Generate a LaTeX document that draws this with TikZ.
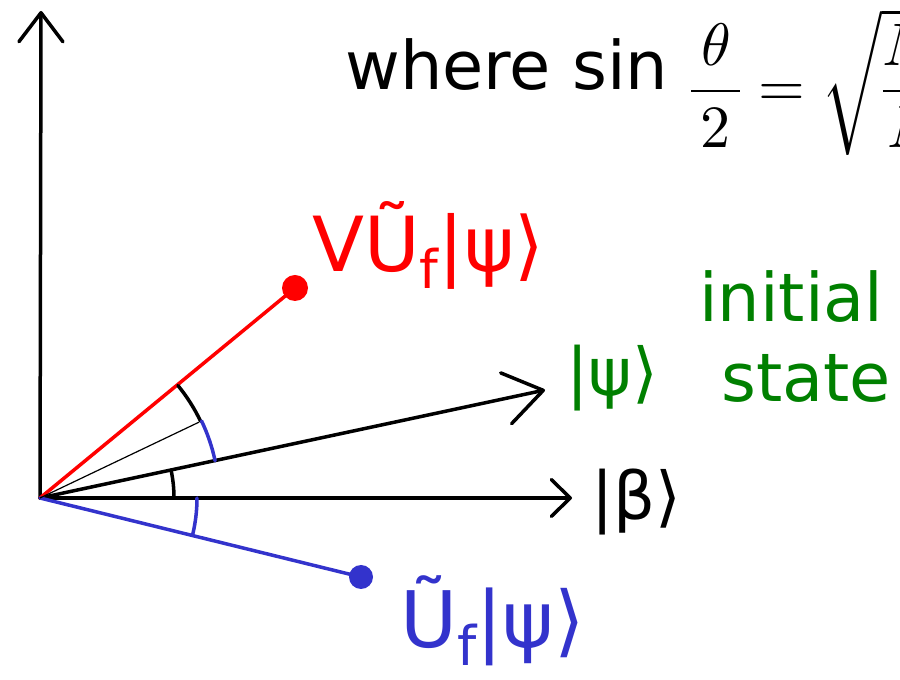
\documentclass[tikz,border=0pt]{standalone}
\usepackage{fontspec}
\setmainfont{DejaVu Sans}
\usepackage{unicode-math}
\usetikzlibrary{arrows.meta, positioning, calc}
\definecolor{penred}{RGB}{255,0,0}
\definecolor{penblue}{RGB}{51,51,204}
\definecolor{pengreen}{RGB}{0,128,0}
\newcommand{\subf}{\raisebox{-0.22em}{\fontsize{0.7em}{0.7em}\selectfont f}}
\tikzset{
  pen/.style      = {line width=3.5pt, line cap=round, line join=round},
  hand/.style     = {inner sep=0pt, anchor=base west,
                     font=\fontsize{#1}{#1}\selectfont},
  hand/.default   = 76,
  typed/.style    = {inner sep=0pt, anchor=base west,
                     font=\fontsize{67}{80}\selectfont},
  statedot/.style = {circle, inner sep=0pt, minimum size=#1},
}
\begin{document}
\begin{tikzpicture}[x=1pt, y=1pt,
  angarc/.style={pen},
  helper/.style={line width=1.2pt}
]
  \useasboundingbox (0,0) rectangle (900,680);
  \clip (0,0) rectangle (900,680);

  \coordinate (O)    at (40,182);
  \coordinate (ytip) at (41,669);
  \coordinate (btip) at (572,182);
  \coordinate (ptip) at (545,290);
  \node[statedot=26pt, fill=penred]  (vdot) at (295,392) {};
  \node[statedot=24pt, fill=penblue] (udot) at (361,103) {};

  % axes and state vectors
  \draw[pen, -{Straight Barb[length=29pt, width=44pt, round]}] (O) -- (ytip);
  \draw[pen, -{Straight Barb[length=19pt, width=37pt, round]}] (O) -- (btip);
  \draw[pen, -{Straight Barb[length=38pt, width=52pt, round]}] (O) -- (ptip);
  \draw[pen, penred]  (O) -- (vdot.center);
  \draw[pen, penblue] (O) -- (udot.center);
  \draw[helper] (O) -- ++(25.5:176);

  % angle marks
  \draw[angarc] (O) ++(0:134) arc[start angle=0, end angle=12, radius=134];
  \draw[angarc, penblue] (O) ++(0:157)
    arc[start angle=0, end angle=-13.6, radius=157];
  \draw[angarc] (O) ++(39.2:178) arc[start angle=39.2, end angle=25.5, radius=178];
  \draw[angarc, penblue] (O) ++(25.5:179)
    arc[start angle=25.5, end angle=12, radius=179];

  % labels
  \node[hand, penred]  (vlabel) at (312,408) {VŨ\subf|ψ⟩};
  \node[hand=78, penblue] (ulabel) at (400,32) {Ũ\subf|ψ⟩};
  \node[hand=66, pengreen] (plabel) at (566,284) {|ψ⟩};
  \node[hand=66] (blabel) at (591,160) {|β⟩};

  \node[typed] (where) at (345,590) {where sin};
  \node[inner sep=0pt, anchor=west, font=\fontsize{60}{64}\selectfont] (angle)
    at (690,598) {$\dfrac{\,\theta\,}{2}=\sqrt{\dfrac{M}{N}}$};
  \node[typed, pengreen] (initial) at (699,358) {initial};
  \node[typed, pengreen] (state)   at (721,278) {state};
\end{tikzpicture}
\end{document}
